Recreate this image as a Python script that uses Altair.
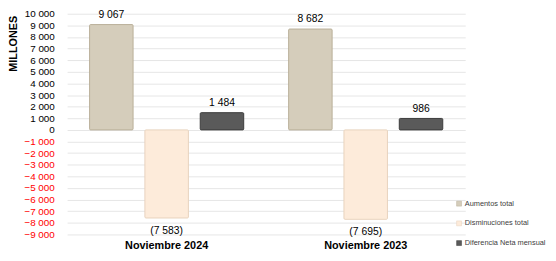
import altair as alt
import pandas as pd

groups = ["Noviembre 2024", "Noviembre 2023"]
series = ["Aumentos total", "Disminuciones total", "Diferencia Neta mensual"]
values_2024 = [9067, -7583, 1484]
values_2023 = [8682, -7695, 986]
colors = ["#D5CDBB", "#FDEBDA", "#5A5A5A"]
strokes = ["#B9AF98", "#E8D2BD", "#3C3C3C"]
y_ticks = list(range(-9000, 10001, 1000))


def fmt(v):
    s = f"{abs(v):,}".replace(",", " ")
    return f"({s})" if v < 0 else s


rows = []
for g, vals in zip(groups, [values_2024, values_2023]):
    for s, v in zip(series, vals):
        rows.append({"grupo": g, "serie": s, "valor": v, "etiqueta": fmt(v)})
df = pd.DataFrame(rows)

FONT = "Liberation Sans"

x_enc = alt.X(
    "grupo:N",
    sort=groups,
    scale=alt.Scale(paddingInner=0, paddingOuter=0),
    axis=alt.Axis(
        title=None, labelAngle=0, domain=False, ticks=False,
        labelFont=FONT, labelFontSize=11, labelFontWeight="bold",
        labelColor="#000000", labelPadding=5,
    ),
)
xo_enc = alt.XOffset(
    "serie:N", sort=series,
    scale=alt.Scale(paddingInner=0.214, paddingOuter=0.406),
)
y_enc = alt.Y(
    "valor:Q",
    scale=alt.Scale(domain=[-9000, 10000], nice=False, zero=False),
    axis=alt.Axis(
        title="MILLONES", values=y_ticks, domain=False, ticks=False,
        grid=True, gridColor="#E6E6E6", gridWidth=1,
        labelFont=FONT, labelFontSize=10, labelPadding=13,
        labelExpr="replace(format(datum.value, ','), ',', ' ')",
        labelColor={"condition": {"test": "datum.value < 0", "value": "#FF0000"}, "value": "#000000"},
        titleFont=FONT, titleFontSize=11, titleFontWeight="bold", titleColor="#000000",
        titleAngle=270, titleX=-54, titleY=30, titleAlign="center", titleBaseline="middle",
    ),
)

base = alt.Chart(df)

bars = base.mark_bar(strokeWidth=1, cornerRadius=1).encode(
    x=x_enc,
    xOffset=xo_enc,
    y=y_enc,
    y2=alt.datum(0),
    color=alt.Color(
        "serie:N",
        scale=alt.Scale(domain=series, range=colors),
        legend=alt.Legend(
            title=None, orient="none", legendX=394, legendY=189,
            symbolType="square", symbolSize=25, symbolStrokeWidth=0.5,
            symbolStrokeColor="#9A9080",
            labelFont=FONT, labelFontSize=7.5, labelColor="#404040",
            labelOffset=2, rowPadding=11, padding=0, labelLimit=0,
        ),
    ),
    stroke=alt.Stroke("serie:N", scale=alt.Scale(domain=series, range=strokes), legend=None),
)

pos_text = base.transform_filter("datum.valor >= 0").mark_text(
    baseline="bottom", dy=-5, font=FONT, fontSize=10.5, color="#000000"
).encode(x=x_enc, xOffset=xo_enc, y=y_enc, text="etiqueta:N")

neg_text = base.transform_filter("datum.valor < 0").mark_text(
    baseline="top", dy=8, font=FONT, fontSize=10.5, color="#000000"
).encode(x=x_enc, xOffset=xo_enc, y=y_enc, text="etiqueta:N")

chart = alt.layer(bars, pos_text, neg_text).properties(
    width=404, height=224,
    autosize=alt.AutoSizeParams(type="none"),
    padding={"left": 60, "top": 4, "right": 84, "bottom": 17},
    background="#FFFFFF",
).configure_view(strokeWidth=0)

chart.save("out.html", embed_options={"renderer": "svg", "actions": False})
